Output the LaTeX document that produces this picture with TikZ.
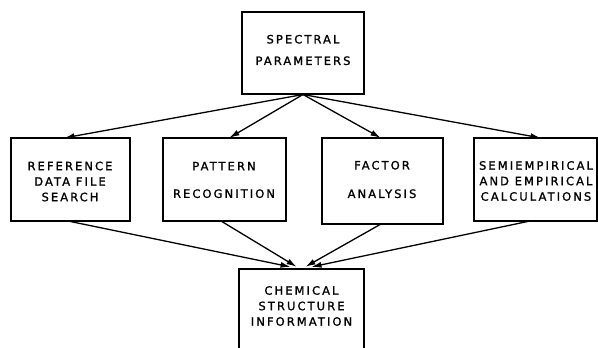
\documentclass[tikz,border=0pt]{standalone}
\usepackage{fontspec}
\setmainfont{DejaVu Sans}[LetterSpace=18, FakeBold=1.2]
\usetikzlibrary{arrows.meta}
\begin{document}
\begin{tikzpicture}[x=1pt,y=-1pt,
  box/.style={draw, line width=1.9pt, inner sep=0pt},
  lbl/.style={align=center, inner sep=0pt, font=\fontsize{11.5}{15.5}\selectfont},
  conn/.style={line width=1.3pt, -{Latex[length=10pt,width=6pt]}, shorten >=0.5pt}
]
\useasboundingbox (0,0) rectangle (598,348);
\begin{scope}
\clip (0,0) rectangle (598,348);
% boxes
\node[box, minimum width=122pt, minimum height=82pt] (top) at (303,53) {};
\node[box, minimum width=119pt, minimum height=83pt] (b1) at (70.5,179.5) {};
\node[box, minimum width=123pt, minimum height=83pt] (b2) at (224.5,179.5) {};
\node[box, minimum width=121pt, minimum height=86pt] (b3) at (382.5,181) {};
\node[box, minimum width=123pt, minimum height=83pt] (b4) at (535.5,179.5) {};
\node[box, minimum width=125pt, minimum height=100pt, anchor=north] (bot) at (301.5,268) {};
\end{scope}
% labels
\node[lbl] (ttop) at (303,50) {SPECTRAL\\[6pt]PARAMETERS};
\node[lbl] (t1) at (70,181.5) {REFERENCE\\DATA FILE\\SEARCH};
\node[lbl] (t2) at (224,180) {PATTERN\\[12pt]RECOGNITION};
\node[lbl] (t3) at (382,179.5) {FACTOR\\[13pt]ANALYSIS};
\node[lbl] (t4) at (536,181) {SEMIEMPIRICAL\\AND EMPIRICAL\\CALCULATIONS};
\node[lbl] (tbot) at (301.5,306) {CHEMICAL\\STRUCTURE\\INFORMATION};
% connectors
\coordinate (fan) at (303,94.5);
\draw[conn] (fan) -- (64,138);
\draw[conn] (fan) -- (229,138);
\draw[conn] (fan) -- (381,138);
\draw[conn] (fan) -- (541,138);
\coordinate (m1) at (291,267);
\coordinate (m2) at (297,267);
\coordinate (m3) at (305,267);
\coordinate (m4) at (311,267);
\draw[conn] (68,221) -- (m1);
\draw[conn] (221,221) -- (m2);
\draw[conn] (381,224) -- (m3);
\draw[conn] (530,221) -- (m4);
\end{tikzpicture}
\end{document}
